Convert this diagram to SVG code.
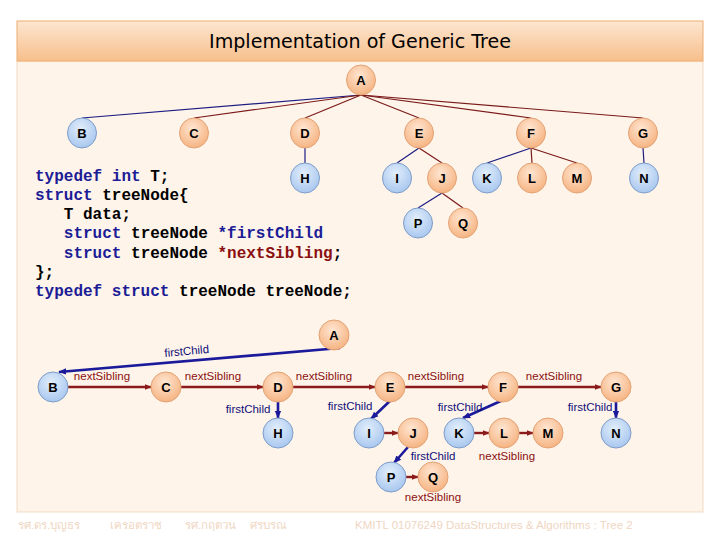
<svg xmlns="http://www.w3.org/2000/svg" width="720" height="540" viewBox="0 0 720 540">
<defs>
<linearGradient id="titleG" x1="0" y1="0" x2="0" y2="1">
<stop offset="0" stop-color="#fde6d0"/><stop offset="1" stop-color="#f7bf8c"/>
</linearGradient>
<radialGradient id="org" cx="0.45" cy="0.35" r="0.7">
<stop offset="0" stop-color="#ffe6d2"/><stop offset="1" stop-color="#f5b07c"/>
</radialGradient>
<radialGradient id="blu" cx="0.45" cy="0.35" r="0.7">
<stop offset="0" stop-color="#e2eefb"/><stop offset="1" stop-color="#a4c4ee"/>
</radialGradient>
<marker id="ar" viewBox="0 0 10 10" refX="9" refY="5" markerWidth="7" markerHeight="7" markerUnits="userSpaceOnUse" orient="auto"><path d="M0,1 L10,5 L0,9 z" fill="#8b1a1a"/></marker>
<marker id="ab" viewBox="0 0 10 10" refX="9" refY="5" markerWidth="8" markerHeight="8" markerUnits="userSpaceOnUse" orient="auto"><path d="M0,1 L10,5 L0,9 z" fill="#1a1a9a"/></marker>
</defs>
<style>
.o{fill:url(#org);stroke:#e3a274;stroke-width:1}
.b{fill:url(#blu);stroke:#7d9cc8;stroke-width:1}
.nl{font-family:"Liberation Sans",Arial,sans-serif;font-weight:bold;font-size:13px;fill:#000;text-anchor:middle}
.tr{stroke:#7a1a1a;stroke-width:1.2;fill:none}
.tb{stroke:#1c1c80;stroke-width:1.2;fill:none}
.br{stroke:#8b1a1a;stroke-width:2.4;fill:none;marker-end:url(#ar)}
.bb{stroke:#1a1a9a;stroke-width:2.6;fill:none;marker-end:url(#ab)}
.ns{font-family:"Liberation Sans",Arial,sans-serif;font-size:11.5px;fill:#8b1010;text-anchor:middle}
.fc{font-family:"Liberation Sans",Arial,sans-serif;font-size:11.5px;fill:#10107a;text-anchor:middle}
.code{font-family:"Liberation Mono","Courier New",monospace;font-weight:bold;font-size:16px;fill:#000;white-space:pre}
.kw{fill:#1c1c96}
.rd{fill:#8b1010}
.ft{font-family:"Liberation Sans",Arial,"Noto Sans",sans-serif;font-size:11.5px;fill:#f0d6c2}
</style>
<rect x="17" y="61" width="686" height="451" fill="#fef4ea" stroke="#f3dac4" stroke-width="1"/>
<rect x="17" y="21" width="686" height="40" fill="url(#titleG)" stroke="#f0ad70" stroke-width="1"/>
<text x="360" y="48" text-anchor="middle" font-family="DejaVu Sans,sans-serif" font-size="19" fill="#000" textLength="302" lengthAdjust="spacingAndGlyphs">Implementation of Generic Tree</text>

<g id="connectors">
<line class="tb" x1="361" y1="95" x2="82" y2="118"/>
<line class="tr" x1="361" y1="95" x2="194" y2="118"/>
<line class="tr" x1="361" y1="95" x2="305" y2="118"/>
<line class="tr" x1="361" y1="95" x2="419" y2="118"/>
<line class="tr" x1="361" y1="95" x2="531" y2="118"/>
<line class="tr" x1="361" y1="95" x2="643" y2="118"/>
<line class="tb" x1="305" y1="148" x2="305" y2="163"/>
<line class="tb" x1="419" y1="148" x2="397" y2="163"/>
<line class="tr" x1="419" y1="148" x2="442" y2="163"/>
<line class="tb" x1="531" y1="148" x2="487" y2="163"/>
<line class="tr" x1="531" y1="148" x2="532" y2="163"/>
<line class="tr" x1="531" y1="148" x2="577" y2="163"/>
<line class="tb" x1="643" y1="148" x2="644" y2="163"/>
<line class="tb" x1="442" y1="193" x2="418" y2="208"/>
<line class="tr" x1="442" y1="193" x2="463" y2="208"/>

<line class="bb" x1="340" y1="348" x2="59" y2="372"/>
<line class="br" x1="68" y1="387" x2="151" y2="387"/>
<line class="br" x1="181" y1="387" x2="263" y2="387"/>
<line class="br" x1="293" y1="387" x2="375" y2="387"/>
<line class="br" x1="405" y1="387" x2="488" y2="387"/>
<line class="br" x1="518" y1="387" x2="601" y2="387"/>
<line class="bb" x1="278" y1="402" x2="278" y2="418"/>
<line class="bb" x1="392" y1="399" x2="371" y2="419"/>
<line class="bb" x1="503" y1="400" x2="463" y2="418"/>
<line class="bb" x1="616" y1="402" x2="616" y2="418"/>
<line class="bb" x1="408" y1="447" x2="394" y2="463"/>
<line class="br" x1="384" y1="433" x2="398" y2="433"/>
<line class="br" x1="474" y1="433" x2="489" y2="433"/>
<line class="br" x1="519" y1="433" x2="533" y2="433"/>
<line class="br" x1="406" y1="477" x2="418" y2="477"/>

<text class="fc" x="187" y="355" transform="rotate(-5 187 355)">firstChild</text>
<text class="ns" x="102" y="380">nextSibling</text>
<text class="ns" x="213" y="380">nextSibling</text>
<text class="ns" x="324" y="380">nextSibling</text>
<text class="ns" x="436" y="380">nextSibling</text>
<text class="ns" x="554" y="380">nextSibling</text>
<text class="fc" x="248" y="413">firstChild</text>
<text class="fc" x="350" y="410">firstChild</text>
<text class="fc" x="460" y="411">firstChild</text>
<text class="fc" x="590" y="411">firstChild</text>
<text class="fc" x="433" y="460">firstChild</text>
<text class="ns" x="507" y="460">nextSibling</text>
<text class="ns" x="433" y="501">nextSibling</text>
</g>

<g id="top-A"><ellipse class="o" cx="361" cy="80" rx="14.5" ry="15"/><text class="nl" x="361" y="85">A</text></g>
<g id="top-B"><ellipse class="b" cx="82" cy="133" rx="14.5" ry="15"/><text class="nl" x="82" y="138">B</text></g>
<g id="top-C"><ellipse class="o" cx="194" cy="133" rx="14.5" ry="15"/><text class="nl" x="194" y="138">C</text></g>
<g id="top-D"><ellipse class="o" cx="305" cy="133" rx="14.5" ry="15"/><text class="nl" x="305" y="138">D</text></g>
<g id="top-E"><ellipse class="o" cx="419" cy="133" rx="14.5" ry="15"/><text class="nl" x="419" y="138">E</text></g>
<g id="top-F"><ellipse class="o" cx="531" cy="133" rx="14.5" ry="15"/><text class="nl" x="531" y="138">F</text></g>
<g id="top-G"><ellipse class="o" cx="643" cy="133" rx="14.5" ry="15"/><text class="nl" x="643" y="138">G</text></g>
<g id="top-H"><ellipse class="b" cx="305" cy="178" rx="14.5" ry="15"/><text class="nl" x="305" y="183">H</text></g>
<g id="top-I"><ellipse class="b" cx="397" cy="178" rx="14.5" ry="15"/><text class="nl" x="397" y="183">I</text></g>
<g id="top-J"><ellipse class="o" cx="442" cy="178" rx="14.5" ry="15"/><text class="nl" x="442" y="183">J</text></g>
<g id="top-K"><ellipse class="b" cx="487" cy="178" rx="14.5" ry="15"/><text class="nl" x="487" y="183">K</text></g>
<g id="top-L"><ellipse class="o" cx="532" cy="178" rx="14.5" ry="15"/><text class="nl" x="532" y="183">L</text></g>
<g id="top-M"><ellipse class="o" cx="577" cy="178" rx="14.5" ry="15"/><text class="nl" x="577" y="183">M</text></g>
<g id="top-N"><ellipse class="b" cx="644" cy="178" rx="14.5" ry="15"/><text class="nl" x="644" y="183">N</text></g>
<g id="top-P"><ellipse class="b" cx="418" cy="223" rx="14.5" ry="15"/><text class="nl" x="418" y="228">P</text></g>
<g id="top-Q"><ellipse class="o" cx="463" cy="223" rx="14.5" ry="15"/><text class="nl" x="463" y="228">Q</text></g>

<g id="code">
<text class="code" x="35" y="181"><tspan class="kw">typedef int</tspan> T;</text>
<text class="code" x="35" y="200"><tspan class="kw">struct</tspan> treeNode{</text>
<text class="code" x="35" y="219">   T data;</text>
<text class="code" x="35" y="238">   <tspan class="kw">struct</tspan> treeNode <tspan class="kw">*firstChild</tspan></text>
<text class="code" x="35" y="258">   <tspan class="kw">struct</tspan> treeNode <tspan class="rd">*nextSibling</tspan>;</text>
<text class="code" x="35" y="277">};</text>
<text class="code" x="35" y="296"><tspan class="kw">typedef struct</tspan> treeNode treeNode;</text>
</g>

<g id="bot-A"><circle class="o" cx="334" cy="335" r="15"/><text class="nl" x="334" y="340">A</text></g>
<g id="bot-B"><circle class="b" cx="53" cy="387" r="15"/><text class="nl" x="53" y="392">B</text></g>
<g id="bot-C"><circle class="o" cx="166" cy="387" r="15"/><text class="nl" x="166" y="392">C</text></g>
<g id="bot-D"><circle class="o" cx="278" cy="387" r="15"/><text class="nl" x="278" y="392">D</text></g>
<g id="bot-E"><circle class="o" cx="390" cy="387" r="15"/><text class="nl" x="390" y="392">E</text></g>
<g id="bot-F"><circle class="o" cx="503" cy="387" r="15"/><text class="nl" x="503" y="392">F</text></g>
<g id="bot-G"><circle class="o" cx="616" cy="387" r="15"/><text class="nl" x="616" y="392">G</text></g>
<g id="bot-H"><circle class="b" cx="278" cy="433" r="15"/><text class="nl" x="278" y="438">H</text></g>
<g id="bot-I"><circle class="b" cx="369" cy="433" r="15"/><text class="nl" x="369" y="438">I</text></g>
<g id="bot-J"><circle class="o" cx="413" cy="433" r="15"/><text class="nl" x="413" y="438">J</text></g>
<g id="bot-K"><circle class="b" cx="459" cy="433" r="15"/><text class="nl" x="459" y="438">K</text></g>
<g id="bot-L"><circle class="o" cx="504" cy="433" r="15"/><text class="nl" x="504" y="438">L</text></g>
<g id="bot-M"><circle class="o" cx="548" cy="433" r="15"/><text class="nl" x="548" y="438">M</text></g>
<g id="bot-N"><circle class="b" cx="616" cy="433" r="15"/><text class="nl" x="616" y="438">N</text></g>
<g id="bot-P"><circle class="b" cx="391" cy="477" r="15"/><text class="nl" x="391" y="482">P</text></g>
<g id="bot-Q"><circle class="o" cx="433" cy="477" r="15"/><text class="nl" x="433" y="482">Q</text></g>

<g id="footer">
<text class="ft" x="18" y="529">รศ.ดร.บุญธร</text>
<text class="ft" x="110" y="529">เครอตราช</text>
<text class="ft" x="185" y="529">รศ.กฤตวน</text>
<text class="ft" x="250" y="529">ศรบรณ</text>
<text class="ft" x="355" y="529">KMITL   01076249 DataStructures &amp; Algorithms : Tree 2</text>
</g>
</svg>
